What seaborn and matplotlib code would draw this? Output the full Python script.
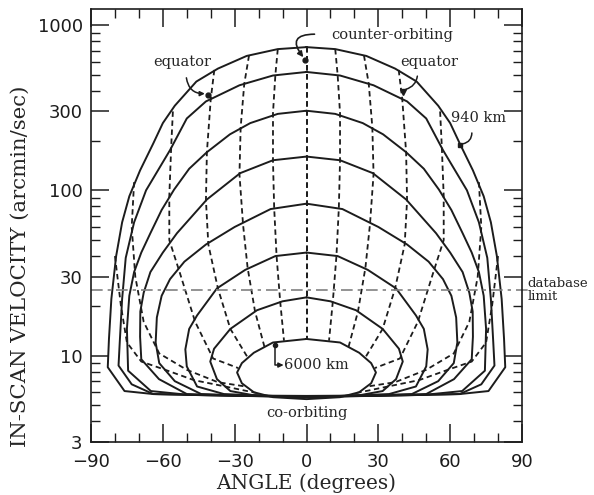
import matplotlib
matplotlib.use("Agg")
import matplotlib.pyplot as plt
from matplotlib.ticker import FixedLocator, LogLocator, NullFormatter, FuncFormatter, MultipleLocator
import seaborn as sns

# ---------------- data (right half, angle >= 0; left half is the mirror) ----------------
# solid curves, outer (940 km) to inner (6000 km); each runs from the counter-orbiting
# top at angle 0 round the right side to the co-orbiting bottom at angle 0
c1_ang = [0, 12, 25, 37, 46, 55, 60, 64, 69.5, 74, 77, 79.5, 81.5, 82.5, 83, 76, 64, 40, 0]
c1_vel = [735, 715, 650, 545, 455, 325, 255, 192, 132, 92, 64, 40, 22, 12.6, 8.5, 6.1, 5.85, 5.75, 5.7]
c2_ang = [0, 14, 28, 42, 50, 57, 67, 72, 75.5, 77, 78, 78.5, 73, 64, 30, 0]
c2_vel = [520, 495, 432, 345, 272, 175, 100, 64, 39, 22, 12, 8.7, 6.7, 5.85, 5.7, 5.65]
c3_ang = [0, 12, 23.5, 32, 41.6, 49, 55.3, 60.5, 65.2, 69, 72, 74, 75, 74.5, 65, 50, 0]
c3_vel = [303, 290, 255, 218, 170, 135, 101, 76, 55, 42, 32, 23, 14.5, 8.1, 6.1, 5.8, 5.65]
c4_ang = [0, 14, 27.7, 41.6, 54.1, 60, 65.2, 68, 69.4, 69.5, 69, 61.6, 50, 25, 0]
c4_vel = [160, 152, 127, 88, 55, 42, 32, 24, 18.5, 13, 9.5, 7.2, 5.85, 5.7, 5.6]
c5_ang = [0, 15, 30, 42, 51, 57, 60.5, 62.5, 63, 61.5, 55, 44, 20, 0]
c5_vel = [83, 77, 60, 47, 37, 29, 23, 17, 12, 9, 7, 5.85, 5.7, 5.6]
c6_ang = [0, 13, 25.6, 37.4, 45.7, 49, 50.6, 50, 45.7, 34.5, 15, 0]
c6_vel = [42, 40, 33, 25.5, 17.5, 14.5, 10.9, 8.6, 6.5, 5.85, 5.7, 5.6]
c7_ang = [0, 10, 20.7, 31.8, 38.6, 40.2, 37.4, 31.8, 22, 0]
c7_vel = [22.5, 21.3, 18.8, 14.5, 11, 9.2, 7.2, 6.1, 5.75, 5.6]
c8_ang = [0, 14, 22, 27, 29, 27, 22, 14, 0]
c8_vel = [12.6, 12.0, 10.4, 9.0, 7.9, 6.8, 6.0, 5.6, 5.45]

# dashed lines: one crossing per solid curve, outer to inner
d0_ang = [0, 0]
d0_vel = [735, 12.6]
da_ang = [12, 13, 14, 14, 13.5, 12.5, 11, 9.4]
da_vel = [715, 500, 293, 150, 78, 40, 21.3, 12.3]
db_ang = [24, 26, 27.5, 28, 26.5, 24.6, 21.5, 17.5]
db_vel = [655, 440, 240, 125, 62, 34, 18.5, 11.2]
dc_ang = [38.5, 40, 41.6, 42, 41, 37, 31.8, 24.5]
dc_vel = [535, 355, 170, 87, 47, 25.5, 14.5, 9.7]
dd_ang = [55.8, 56.5, 57.3, 57.3, 53, 46.5, 39, 28.5]
dd_vel = [300, 185, 92, 50, 32, 16, 9.6, 8.4]
de_ang = [72, 73, 71.5, 68, 61.5, 50, 37, 25.5]
de_vel = [112, 60, 30, 16, 10.3, 8.2, 6.9, 6.5]
df_ang = [80, 77.5, 75, 69, 59, 47, 34, 20]
df_vel = [40, 20, 12, 9.2, 8.2, 7.1, 6.5, 5.9]

db_limit = 25

solid = [(c1_ang, c1_vel), (c2_ang, c2_vel), (c3_ang, c3_vel), (c4_ang, c4_vel),
         (c5_ang, c5_vel), (c6_ang, c6_vel), (c7_ang, c7_vel), (c8_ang, c8_vel)]
dashed = [(d0_ang, d0_vel), (da_ang, da_vel), (db_ang, db_vel), (dc_ang, dc_vel),
          (dd_ang, dd_vel), (de_ang, de_vel), (df_ang, df_vel)]

# ---------------- plot ----------------
sns.set_theme(style="ticks")
plt.rcParams["font.family"] = ["DejaVu Sans"]
serif = "DejaVu Serif"
ink = "#1c1c1c"

fig, ax = plt.subplots(figsize=(5.94, 4.95), dpi=100)
fig.subplots_adjust(left=0.1532, right=0.8788, bottom=0.1071, top=0.9818)
ax.set_yscale("log")

for ang, vel in solid:
    xs = ang + [-a for a in ang[::-1]]
    ys = vel + vel[::-1]
    sns.lineplot(x=xs, y=ys, sort=False, estimator=None, color=ink, lw=1.4, ax=ax)

for ang, vel in dashed:
    for sgn in (1, -1):
        sns.lineplot(x=[sgn * a for a in ang], y=vel, sort=False, estimator=None,
                     color=ink, lw=1.3, linestyle=(0, (3, 2)), ax=ax)

ax.plot([-90, 92.5], [db_limit, db_limit], color="#808080", lw=1.2,
        linestyle=(0, (7, 3, 2, 3)), clip_on=False)

# annotations
ax.text(10.2, 870, "counter-orbiting", fontfamily=serif, fontsize=10.5, ha="left", va="center")
ax.plot([-0.6], [614], "o", color=ink, ms=3.5)
ax.annotate("", xy=(-0.6, 620), xytext=(4.5, 880),
            arrowprops=dict(arrowstyle="-|>", color=ink, lw=1.2, mutation_scale=8,
                            connectionstyle="arc3,rad=1.1"))

ax.text(-51.9, 597, "equator", fontfamily=serif, fontsize=10.5, ha="center", va="center")
ax.plot([-41.1], [377], "o", color=ink, ms=3.5)
ax.annotate("", xy=(-41.3, 385), xytext=(-50.3, 498),
            arrowprops=dict(arrowstyle="-|>", color=ink, lw=1.1, mutation_scale=7,
                            connectionstyle="arc3,rad=0.5"))

ax.text(51.2, 597, "equator", fontfamily=serif, fontsize=10.5, ha="center", va="center")
ax.plot([40.2], [394], "v", color=ink, ms=4)
ax.annotate("", xy=(40.4, 405), xytext=(46.4, 510),
            arrowprops=dict(arrowstyle="-", color=ink, lw=1.1,
                            connectionstyle="arc3,rad=-0.4"))

ax.text(72, 273, "940 km", fontfamily=serif, fontsize=10.5, ha="center", va="center")
ax.plot([64.1], [188], "s", color=ink, ms=3.5)
ax.annotate("", xy=(64.3, 190), xytext=(69, 231),
            arrowprops=dict(arrowstyle="-", color=ink, lw=1.1,
                            connectionstyle="arc3,rad=-0.5"))

ax.text(-9.5, 8.76, "6000 km", fontfamily=serif, fontsize=10.5, ha="left", va="center")
ax.plot([-13.2], [11.6], "o", color=ink, ms=3)
ax.annotate("", xy=(-9.6, 8.76), xytext=(-13.2, 11.6),
            arrowprops=dict(arrowstyle="-|>", color=ink, lw=1.1, mutation_scale=7,
                            shrinkA=0, shrinkB=0,
                            connectionstyle="angle,angleA=-90,angleB=0,rad=0"))

ax.text(0, 4.48, "co-orbiting", fontfamily=serif, fontsize=10.5, ha="center", va="center")
ax.text(92.3, db_limit, "database\nlimit", fontfamily=serif, fontsize=9.5,
        ha="left", va="center", linespacing=0.95, clip_on=False)

# axes, ticks
ax.set_xlim(-90, 90)
ax.set_ylim(3, 1250)
ax.xaxis.set_major_locator(FixedLocator([-90, -60, -30, 0, 30, 60, 90]))
ax.xaxis.set_minor_locator(MultipleLocator(10))
ax.yaxis.set_major_locator(FixedLocator([3, 10, 30, 100, 300, 1000]))
ax.yaxis.set_major_formatter(FuncFormatter(lambda v, p: f"{v:g}"))
ax.yaxis.set_minor_locator(LogLocator(base=10, subs=(2, 4, 5, 6, 7, 8, 9)))
ax.yaxis.set_minor_formatter(NullFormatter())
ax.tick_params(which="both", direction="in", top=True, right=True, colors=ink)
ax.tick_params(which="major", length=13, width=1.1, labelsize=13)
ax.tick_params(axis="x", which="major", pad=8)
ax.tick_params(axis="y", which="major", pad=6)
ax.tick_params(which="minor", length=6.5, width=1.0)
for s in ax.spines.values():
    s.set_color(ink)
    s.set_linewidth(1.2)

ax.set_xlabel("ANGLE (degrees)", fontfamily=serif, fontsize=14.5)
ax.set_ylabel("IN-SCAN VELOCITY (arcmin/sec)", fontfamily=serif, fontsize=15.3)
ax.xaxis.set_label_coords(0.5, -0.072)
ax.yaxis.set_label_coords(-0.142, 0.406)
ax.grid(False)

fig.savefig("out.png", dpi=100)
